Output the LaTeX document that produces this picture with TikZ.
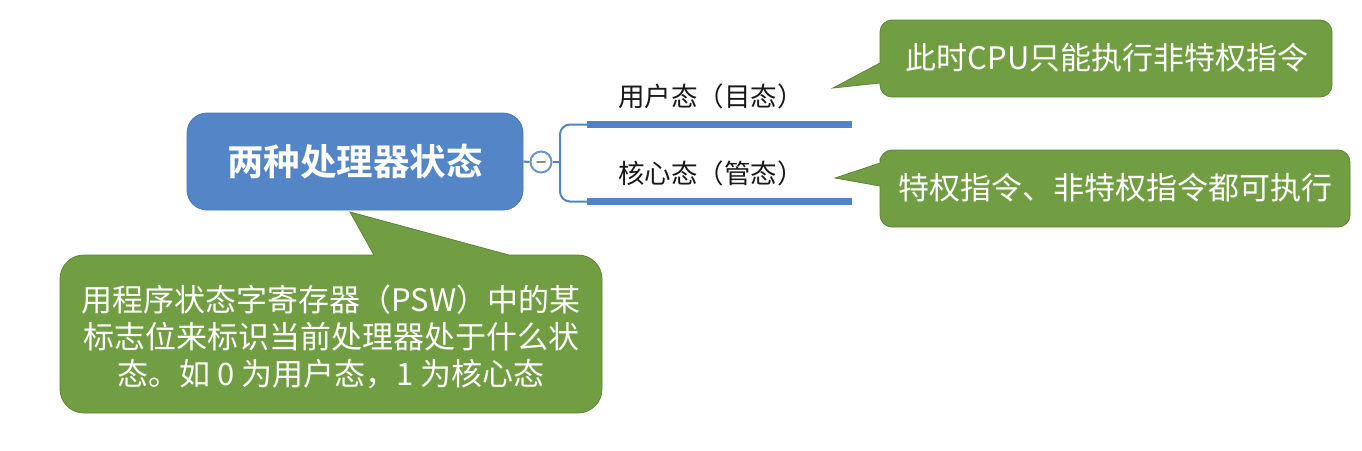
\documentclass[tikz,border=0pt]{standalone}
\usepackage{fontspec}
\newfontfamily\cjk{Noto Sans CJK SC}
\newfontfamily\cjkb{Noto Sans CJK SC Bold}
\definecolor{rootblue}{RGB}{84,133,199}
\definecolor{barblue}{RGB}{82,131,198}
\definecolor{cgreen}{RGB}{114,158,67}
\definecolor{cgreenline}{RGB}{92,132,52}
\definecolor{labelc}{RGB}{25,25,25}
\tikzset{
  rootbox/.style={draw=rootblue!90!black, line width=0.8pt, fill=rootblue, rounded corners=20pt, text=white,
    font=\cjkb\fontsize{36.5}{44}\selectfont, inner sep=0pt},
  calloutshape/.style={fill=cgreen, draw=cgreenline, line width=0.8pt},
  callouttext/.style={text=white, font=\cjk\fontsize{31}{37}\selectfont, align=center, inner sep=0pt},
  branchlabel/.style={text=labelc, font=\cjk\fontsize{26.5}{32}\selectfont, inner sep=0pt},
  thinlink/.style={draw=barblue, line width=2pt},
  barline/.style={draw=barblue, line width=7pt},
  collapse/.style={circle, draw=barblue!85!white, line width=2pt, fill=white, minimum size=21pt, inner sep=0pt},
}
\begin{document}
\begin{tikzpicture}[x=1pt,y=-1pt]
\useasboundingbox (0,0) rectangle (1362,450);
\fill[white] (0,0) rectangle (1362,450);

% bottom-left callout (drawn first so root box lies on top of pointer tip)
\path[calloutshape] (200,255) -- (374,255) -- (350,212) -- (509,255) -- (540,255)
  [rounded corners=24pt] -- (602,255) -- (602,413) -- (60,413) -- (60,255) -- cycle;
\node[callouttext] (note) at (331,337) {用程序状态字寄存器（PSW）中的某\\标志位来标识当前处理器处于什么状\\态。如 0 为用户态，1 为核心态};

% root
\node[rootbox, minimum width=336pt, minimum height=97pt] (root) at (355,161.5) {两种处理器状态};

% collapse circle and bracket
\node[collapse] (col) at (541,162) {};
\draw[line width=2pt, draw=black!45, line cap=round] ([xshift=-4pt]col.center) -- ([xshift=4pt]col.center);
\draw[thinlink] (root.east) -- (col.west);
\coordinate (jn) at (560,162);
\coordinate (b1s) at (587,124.5);
\coordinate (b1e) at (852,124.5);
\coordinate (b2s) at (587,201.5);
\coordinate (b2e) at (852,201.5);
\draw[thinlink] (col.east) -- (jn);
\draw[thinlink, rounded corners=10pt] (b1s) -- (560,124.5) -- (560,201.5) -- (b2s);
\draw[barline] (b1s) -- (b1e);
\draw[barline] (b2s) -- (b2e);

\node[branchlabel] (user) at (711,96) {用户态（目态）};
\node[branchlabel] (kern) at (711,173) {核心态（管态）};

% top-right callout
\path[calloutshape] (880,50) -- (880,63) -- (833,88) -- (880,83) -- (880,85)
  [rounded corners=12pt] -- (880,97) -- (1332,97) -- (1332,20) -- (880,20) -- cycle;
\node[callouttext] (c1) at (1107,58) {此时CPU只能执行非特权指令};

% bottom-right callout
\path[calloutshape] (880,170) -- (880,163) -- (835,178) -- (880,186) -- (880,200)
  [rounded corners=12pt] -- (880,227) -- (1350,227) -- (1350,150) -- (880,150) -- cycle;
\node[callouttext] (c2) at (1115,188) {特权指令、非特权指令都可执行};
\end{tikzpicture}
\end{document}
